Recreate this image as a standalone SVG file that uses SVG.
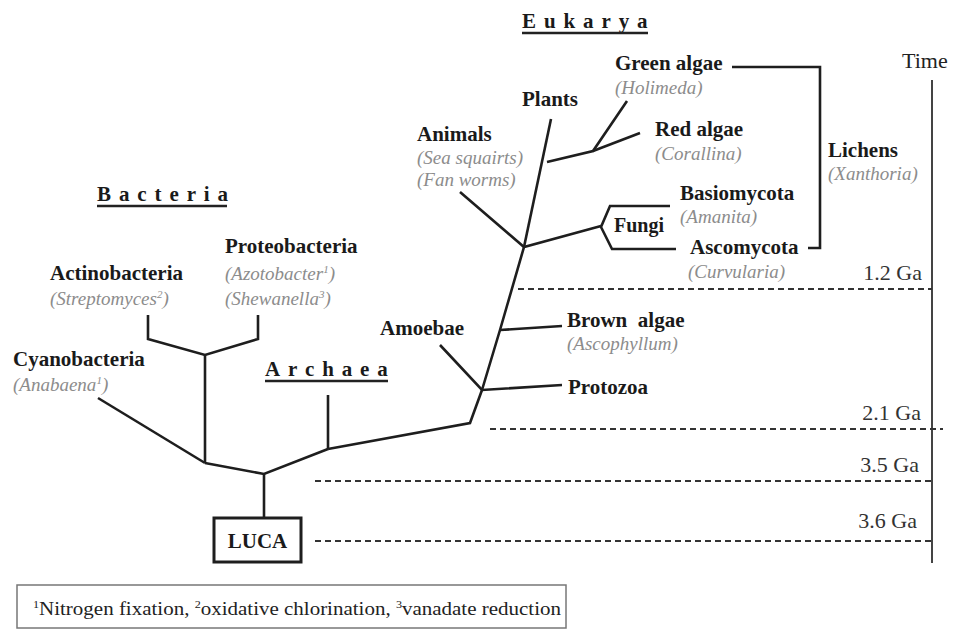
<svg xmlns="http://www.w3.org/2000/svg" width="953" height="630" viewBox="0 0 953 630" font-family="'Liberation Serif', 'DejaVu Serif', serif">
<style>
text{font-family:'Liberation Serif','DejaVu Serif',serif}
.b{font-weight:bold;font-size:21px;fill:#1a1a1a}
.i{font-style:italic;font-size:19px;fill:#8c8c8c}
.t{font-weight:bold;font-size:21px;fill:#1a1a1a;letter-spacing:7.9px}
.ul{stroke:#222;stroke-width:2.5}
.ga{font-size:22px;fill:#333;text-anchor:end}
.c{fill:none;stroke:#1e1e1e;stroke-width:2.6;stroke-linejoin:miter;stroke-linecap:butt}
.d{stroke:#333;stroke-width:2;stroke-dasharray:6 4}
.sup{font-size:11px}
</style>
<rect width="953" height="630" fill="#fff"/>

<g id="titles">
  <g id="eukarya"><text class="t" x="522" y="28">Eukarya</text><line class="ul" x1="522" y1="33" x2="648" y2="33"/></g>
  <g id="bacteria"><text class="t" x="97" y="201">Bacteria</text><line class="ul" x1="97" y1="206" x2="227" y2="206"/></g>
  <g id="archaea"><text class="t" x="265" y="376">Archaea</text><line class="ul" x1="265" y1="381" x2="388" y2="381"/></g>
</g>

<g id="connectors">
  <polyline class="c" points="264,518 264,474"/>
  <polyline class="c" points="205,463 264,474 328,449"/>
  <polyline class="c" points="205,463 205,355"/>
  <polyline class="c" points="98,398 205,463"/>
  <polyline class="c" points="148,315 148,339 205,355 258,339 258,315"/>
  <polyline class="c" points="328,449 328,395"/>
  <polyline class="c" points="328,449 470,423 482,390"/>
  <polyline class="c" points="440,345 482,390 562,385"/>
  <polyline class="c" points="482,390 500,330 524,247"/>
  <polyline class="c" points="500,330 562,326"/>
  <polyline class="c" points="460,192 524,247 601,226"/>
  <polyline class="c" points="524,247 551,119"/>
  <polyline class="c" points="547,162 593,151 627,101"/>
  <polyline class="c" points="593,151 640,133"/>
  <polyline class="c" points="670,206 610,206 601,227 612,249 676,249"/>
  <polyline class="c" points="732,67 820,67 820,248 808,248"/>
</g>

<g id="timeline">
  <text x="902" y="68" style="font-size:22px;fill:#222">Time</text>
  <line x1="932" y1="80" x2="932" y2="563" stroke="#444" stroke-width="2"/>
  <line class="d" x1="518" y1="289" x2="932" y2="289"/>
  <line class="d" x1="490" y1="429" x2="943" y2="429"/>
  <line class="d" x1="315" y1="481" x2="932" y2="481"/>
  <line class="d" x1="315" y1="541" x2="932" y2="541"/>
  <text class="ga" x="922" y="280">1.2 Ga</text>
  <text class="ga" x="921" y="420">2.1 Ga</text>
  <text class="ga" x="919" y="472">3.5 Ga</text>
  <text class="ga" x="917" y="528">3.6 Ga</text>
</g>

<g id="green-algae"><text class="b" x="615" y="70">Green algae</text><text class="i" x="615" y="94">(Holimeda)</text></g>
<g id="plants"><text class="b" x="522" y="106">Plants</text></g>
<g id="red-algae"><text class="b" x="655" y="136">Red algae</text><text class="i" x="655" y="160">(Corallina)</text></g>
<g id="animals"><text class="b" x="417" y="141">Animals</text><text class="i" x="417" y="164">(Sea squairts)</text><text class="i" x="417" y="186">(Fan worms)</text></g>
<g id="lichens"><text class="b" x="828" y="157">Lichens</text><text class="i" x="828" y="180">(Xanthoria)</text></g>
<g id="basiomycota"><text class="b" x="680" y="200">Basiomycota</text><text class="i" x="680" y="223">(Amanita)</text></g>
<g id="fungi"><text class="b" x="614" y="232" style="font-size:20px">Fungi</text></g>
<g id="ascomycota"><text class="b" x="690" y="254">Ascomycota</text><text class="i" x="688" y="278">(Curvularia)</text></g>
<g id="proteobacteria"><text class="b" x="225" y="253">Proteobacteria</text><text class="i" x="225" y="280">(Azotobacter<tspan class="sup" dy="-7">1</tspan><tspan dy="7">)</tspan></text><text class="i" x="225" y="305">(Shewanella<tspan class="sup" dy="-7">3</tspan><tspan dy="7">)</tspan></text></g>
<g id="actinobacteria"><text class="b" x="50" y="280">Actinobacteria</text><text class="i" x="50" y="305">(Streptomyces<tspan class="sup" dy="-7">2</tspan><tspan dy="7">)</tspan></text></g>
<g id="cyanobacteria"><text class="b" x="13" y="366">Cyanobacteria</text><text class="i" x="13" y="391">(Anabaena<tspan class="sup" dy="-7">1</tspan><tspan dy="7">)</tspan></text></g>
<g id="amoebae"><text class="b" x="380" y="335">Amoebae</text></g>
<g id="brown-algae"><text class="b" x="567" y="327" xml:space="preserve">Brown  algae</text><text class="i" x="567" y="350">(Ascophyllum)</text></g>
<g id="protozoa"><text class="b" x="568" y="394">Protozoa</text></g>
<g id="luca"><rect x="214" y="518" width="87" height="44" fill="#fff" stroke="#1e1e1e" stroke-width="3"/><text class="b" x="257.5" y="548" text-anchor="middle">LUCA</text></g>

<g id="footnote">
  <rect x="17" y="585" width="549" height="43" fill="none" stroke="#777" stroke-width="1.5"/>
  <text x="33" y="615" textLength="528" lengthAdjust="spacingAndGlyphs" style="font-size:19px;fill:#222"><tspan class="sup" dy="-7">1</tspan><tspan dy="7">Nitrogen fixation, </tspan><tspan class="sup" dy="-7">2</tspan><tspan dy="7">oxidative chlorination, </tspan><tspan class="sup" dy="-7">3</tspan><tspan dy="7">vanadate reduction</tspan></text>
</g>
</svg>
